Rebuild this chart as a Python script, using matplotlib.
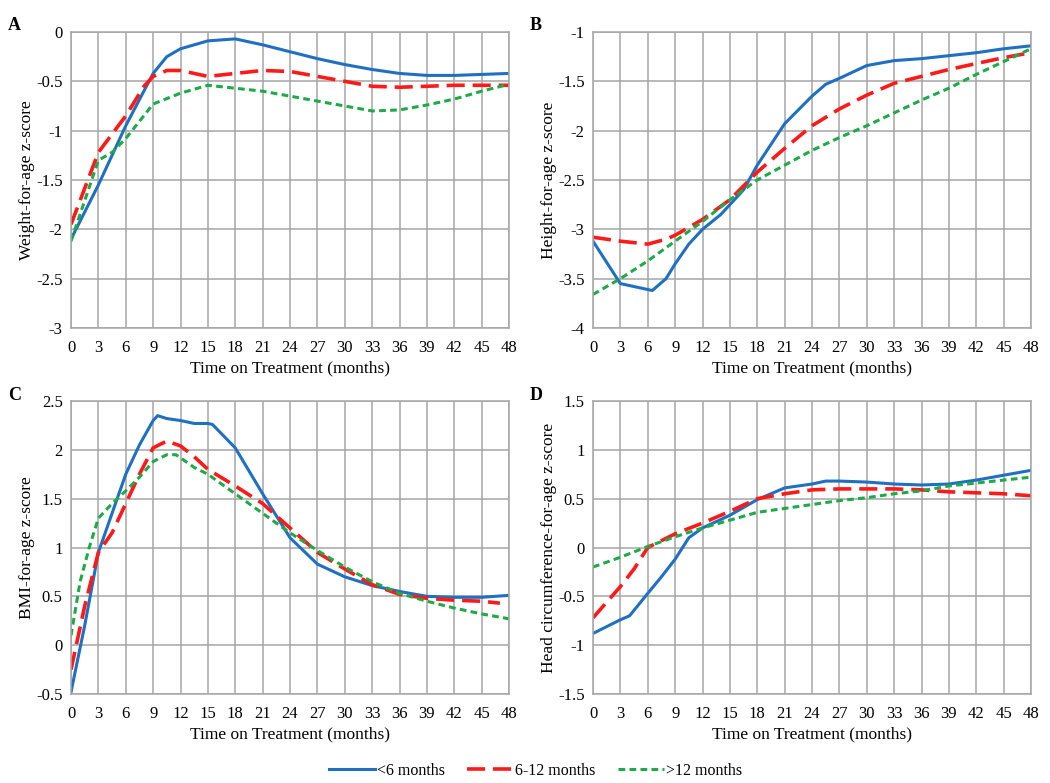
import matplotlib
matplotlib.use('Agg')
import matplotlib.pyplot as plt

plt.rcParams['font.family'] = ['Liberation Serif', 'DejaVu Serif']

# Panel A - weight-for-age
a_blue_x = [0, 3, 6, 9, 10.5, 12, 15, 18, 21, 24, 27, 30, 33, 36, 39, 42, 45, 48]
a_blue_y = [-2.1, -1.55, -0.95, -0.42, -0.25, -0.17, -0.09, -0.07, -0.13, -0.2, -0.27, -0.33, -0.38, -0.42, -0.44, -0.44, -0.43, -0.42]
a_red_x = [0, 3, 6, 8, 9, 10.5, 12, 15, 18, 21, 24, 27, 30, 33, 36, 39, 42, 45, 48]
a_red_y = [-1.95, -1.22, -0.85, -0.55, -0.45, -0.39, -0.39, -0.45, -0.42, -0.39, -0.40, -0.45, -0.5, -0.55, -0.56, -0.55, -0.54, -0.54, -0.54]
a_green_x = [0, 3, 4.5, 6, 9, 12, 15, 18, 21, 24, 27, 30, 33, 36, 39, 42, 45, 48]
a_green_y = [-2.12, -1.3, -1.22, -1.08, -0.73, -0.62, -0.54, -0.57, -0.6, -0.65, -0.7, -0.75, -0.8, -0.79, -0.74, -0.68, -0.6, -0.53]

# Panel B - height-for-age
b_blue_x = [0, 3, 6.5, 8, 9, 10.5, 12, 14, 15, 16.5, 18, 21, 24, 25.5, 27, 30, 33, 36, 39, 42, 45, 48]
b_blue_y = [-3.12, -3.55, -3.62, -3.5, -3.35, -3.15, -3.0, -2.85, -2.75, -2.6, -2.35, -1.93, -1.65, -1.53, -1.47, -1.34, -1.29, -1.27, -1.24, -1.21, -1.17, -1.14]
b_red_x = [0, 3, 6, 8, 9, 12, 15, 18, 21, 24, 27, 30, 33, 36, 39, 42, 45, 48]
b_red_y = [-3.08, -3.12, -3.15, -3.1, -3.06, -2.9, -2.7, -2.42, -2.18, -1.95, -1.78, -1.64, -1.52, -1.45, -1.38, -1.32, -1.26, -1.21]
b_green_x = [0, 3, 6, 9, 12, 15, 18, 21, 24, 27, 30, 33, 36, 39, 42, 45, 48]
b_green_y = [-3.66, -3.5, -3.32, -3.12, -2.92, -2.7, -2.5, -2.35, -2.2, -2.07, -1.95, -1.82, -1.69, -1.57, -1.43, -1.3, -1.17]

# Panel C - BMI-for-age
c_blue_x = [0, 1.5, 3, 6, 7.5, 9, 9.5, 10.5, 12, 13.5, 15, 15.5, 18, 21, 24, 27, 30, 33, 36, 39, 42, 45, 48]
c_blue_y = [-0.48, 0.2, 0.95, 1.75, 2.05, 2.3, 2.35, 2.32, 2.3, 2.27, 2.27, 2.26, 2.02, 1.55, 1.1, 0.83, 0.7, 0.61, 0.55, 0.5, 0.49, 0.49, 0.51]
c_red_x = [0, 1.5, 3, 4.5, 6, 7.5, 9, 10.5, 12, 13.5, 15, 18, 21, 24, 27, 30, 33, 36, 39, 42, 45, 47]
c_red_y = [-0.25, 0.4, 0.95, 1.15, 1.45, 1.75, 2.02, 2.09, 2.04, 1.93, 1.8, 1.63, 1.45, 1.2, 0.95, 0.78, 0.62, 0.52, 0.48, 0.46, 0.45, 0.43]
c_green_x = [0, 1, 2, 3, 4.5, 6, 7.5, 9, 10.5, 11.5, 13.5, 15, 18, 21, 24, 27, 30, 33, 36, 39, 42, 45, 48]
c_green_y = [0.1, 0.65, 1.0, 1.3, 1.45, 1.58, 1.72, 1.88, 1.95, 1.95, 1.82, 1.75, 1.55, 1.35, 1.15, 0.97, 0.8, 0.65, 0.53, 0.45, 0.38, 0.32, 0.27]

# Panel D - head circumference-for-age
d_blue_x = [0, 3, 4, 6, 7.5, 9, 10.5, 12, 15, 18, 21, 24, 25.5, 27, 30, 33, 36, 39, 42, 45, 48]
d_blue_y = [-0.88, -0.74, -0.7, -0.47, -0.3, -0.12, 0.1, 0.2, 0.33, 0.49, 0.61, 0.65, 0.68, 0.68, 0.67, 0.65, 0.64, 0.65, 0.69, 0.74, 0.79]
d_red_x = [0, 3, 4.5, 6, 7.5, 9, 12, 15, 18, 21, 24, 27, 30, 33, 36, 39, 42, 45, 48]
d_red_y = [-0.72, -0.4, -0.22, 0.0, 0.07, 0.14, 0.25, 0.37, 0.5, 0.55, 0.59, 0.6, 0.6, 0.6, 0.59, 0.57, 0.56, 0.55, 0.53]
d_green_x = [0, 3, 6, 9, 12, 15, 18, 21, 24, 27, 30, 33, 36, 39, 42, 45, 48]
d_green_y = [-0.2, -0.1, 0.01, 0.11, 0.2, 0.28, 0.36, 0.4, 0.44, 0.48, 0.51, 0.55, 0.58, 0.63, 0.66, 0.69, 0.72]

labels = ['<6 months', '6-12 months', '>12 months']
x_ticks = list(range(0, 49, 3))

blue = '#1f70c1'
red = '#ff1a1a'
green = '#1faa48'
grid_c = '#a6a6a6'

W, H = 1050, 783
fig = plt.figure(figsize=(W / 100, H / 100), dpi=100)

panels = [
    ('A', 'Weight-for-age z-score', (71, 32, 509, 328), (-3, 0), [-3, -2.5, -2, -1.5, -1, -0.5, 0],
     (a_blue_x, a_blue_y), (a_red_x, a_red_y), (a_green_x, a_green_y)),
    ('B', 'Height-for-age z-score', (593, 32, 1031, 328), (-4, -1), [-4, -3.5, -3, -2.5, -2, -1.5, -1],
     (b_blue_x, b_blue_y), (b_red_x, b_red_y), (b_green_x, b_green_y)),
    ('C', 'BMI-for-age z-score', (71, 401, 509, 694), (-0.5, 2.5), [-0.5, 0, 0.5, 1, 1.5, 2, 2.5],
     (c_blue_x, c_blue_y), (c_red_x, c_red_y), (c_green_x, c_green_y)),
    ('D', 'Head circumference-for-age z-score', (593, 401, 1031, 694), (-1.5, 1.5), [-1.5, -1, -0.5, 0, 0.5, 1, 1.5],
     (d_blue_x, d_blue_y), (d_red_x, d_red_y), (d_green_x, d_green_y)),
]

handles = None
for letter, ylabel, (x0, y0, x1, y1), ylim, yticks, sb, sr, sg in panels:
    ax = fig.add_axes([x0 / W, 1 - y1 / H, (x1 - x0) / W, (y1 - y0) / H])
    hb, = ax.plot(sb[0], sb[1], color=blue, lw=2.2, solid_joinstyle='round')
    hr, = ax.plot(sr[0], sr[1], color=red, lw=2.6, dashes=(5, 2.2))
    hg, = ax.plot(sg[0], sg[1], color=green, lw=2.2, dashes=(2.2, 1.4))
    handles = [hb, hr, hg]
    ax.set_xlim(0, 48)
    ax.set_ylim(*ylim)
    ax.set_xticks(x_ticks)
    ax.set_yticks(yticks)
    ax.set_yticklabels(['%g' % v for v in yticks])
    ax.grid(True, color=grid_c, lw=1.1)
    ax.set_axisbelow(True)
    for s in ax.spines.values():
        s.set_color(grid_c)
        s.set_linewidth(1.1)
    ax.tick_params(length=0, labelsize=12, pad=6)
    ax.tick_params(axis='x', pad=9)
    ax.set_xlabel('Time on Treatment (months)', fontsize=12.5, labelpad=3)
    ax.set_ylabel(ylabel, fontsize=12.5, labelpad=1)
    ax.text(x0 / W - 0.06, 1 - (y0 - 6) / H, letter, transform=fig.transFigure,
            fontsize=13, fontweight='bold', ha='left', va='center')

fig.legend(handles, labels, loc='center', bbox_to_anchor=(0.51, 1 - 771 / H), ncol=3,
           frameon=False, fontsize=11.5, handlelength=2.9, handletextpad=0.1, columnspacing=1.4)

fig.savefig('out.png', dpi=100, facecolor='white')
